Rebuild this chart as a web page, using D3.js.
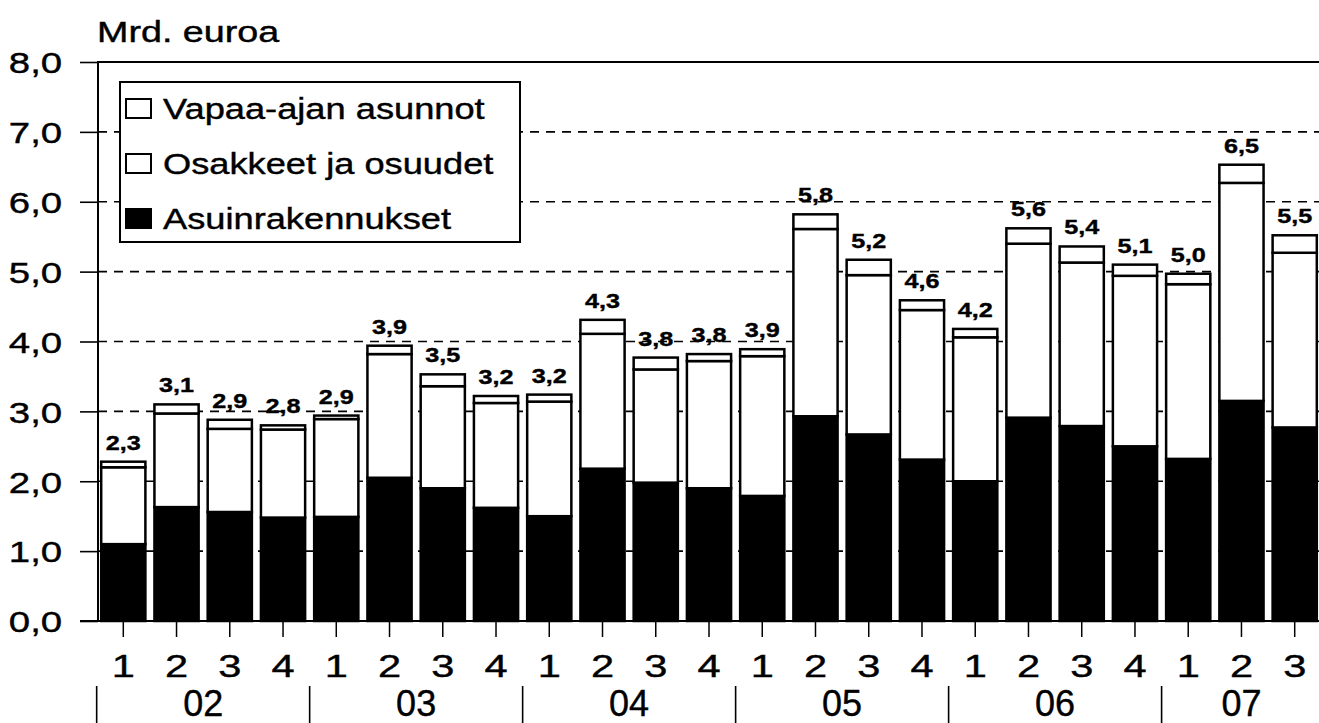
<!DOCTYPE html>
<html>
<head>
<meta charset="utf-8">
<script src="https://cdn.jsdelivr.net/npm/d3@7"></script>
<style>
  body { margin: 0; background: #fff; }
  svg { display: block; font-family: "Liberation Sans", Arial, Helvetica, sans-serif; }
  text { stroke: #000; stroke-width: 0.4; }
</style>
</head>
<body>
<svg id="chart" width="1319" height="723"></svg>
<script>
// quarters 2002 Q1 .. 2007 Q3
const quarters = ["1","2","3","4","1","2","3","4","1","2","3","4","1","2","3","4","1","2","3","4","1","2","3"];
const years = ["02","03","04","05","06","07"];

// Mrd. euroa
const asuinrakennukset = [1.10,1.63,1.56,1.48,1.49,2.05,1.90,1.62,1.50,2.18,1.98,1.90,1.79,2.93,2.67,2.31,2.00,2.91,2.79,2.50,2.32,3.15,2.77];
const osakkeet = [1.10,1.34,1.19,1.26,1.40,1.77,1.46,1.50,1.64,1.93,1.62,1.82,2.00,2.68,2.28,2.14,2.06,2.49,2.34,2.44,2.50,3.12,2.50];
const vapaaajan = [0.08,0.13,0.13,0.06,0.05,0.12,0.17,0.10,0.10,0.20,0.17,0.10,0.10,0.21,0.22,0.14,0.12,0.22,0.23,0.16,0.15,0.26,0.25];
const totalLabels = ["2,3","3,1","2,9","2,8","2,9","3,9","3,5","3,2","3,2","4,3","3,8","3,8","3,9","5,8","5,2","4,6","4,2","5,6","5,4","5,1","5,0","6,5","5,5"];

const yTicks = [0,1,2,3,4,5,6,7,8];
const legendLabels = ["Vapaa-ajan asunnot", "Osakkeet ja osuudet", "Asuinrakennukset"];

const svg = d3.select('#chart');
const m = { left: 98, top: 62, bottom: 621, right: 1320 };

const idx = d3.range(quarters.length);
const x = d3.scaleBand().domain(idx).range([m.left, m.right]).paddingInner(0.17).paddingOuter(0.06);
const y = d3.scaleLinear().domain([0, 8]).range([m.bottom, m.top]);

const comma = d => d3.format('.1f')(d).replace('.', ',');

// dashed grid lines
svg.append('g').selectAll('line')
  .data(yTicks.filter(d => d > 0 && d < 8))
  .join('line')
  .attr('x1', m.left).attr('x2', 1319)
  .attr('y1', d => y(d)).attr('y2', d => y(d))
  .attr('stroke', '#000').attr('stroke-width', 1.6)
  .attr('stroke-dasharray', '9,7');

// top frame line
svg.append('line').attr('x1', m.left).attr('x2', 1319).attr('y1', y(8)).attr('y2', y(8))
  .attr('stroke', '#000').attr('stroke-width', 2);

// stacked bars
const rows = idx.map(i => ({ i, a: asuinrakennukset[i], o: osakkeet[i], v: vapaaajan[i] }));
const stack = d3.stack().keys(['a', 'o', 'v'])(rows);
const fills = { a: '#000', o: '#fff', v: '#fff' };

stack.forEach(layer => {
  svg.append('g').selectAll('rect')
    .data(layer)
    .join('rect')
    .attr('x', d => x(d.data.i))
    .attr('width', x.bandwidth())
    .attr('y', d => y(d[1]))
    .attr('height', d => y(d[0]) - y(d[1]))
    .attr('fill', fills[layer.key])
    .attr('stroke', '#000')
    .attr('stroke-width', 2.5);
});

// total labels
svg.append('g').selectAll('text')
  .data(idx)
  .join('text')
  .attr('transform', i => `translate(${x(i) + x.bandwidth() / 2},${y(asuinrakennukset[i] + osakkeet[i] + vapaaajan[i]) - 12}) scale(1.2,1)`)
  .attr('text-anchor', 'middle')
  .attr('font-size', 21)
  .attr('font-weight', 'bold')
  .text(i => totalLabels[i]);

// y axis
const yAxis = svg.append('g')
  .attr('transform', `translate(${m.left},0)`)
  .call(d3.axisLeft(y).tickValues(yTicks).tickFormat(comma).tickSize(18));
yAxis.select('.domain').remove();
yAxis.selectAll('line').attr('stroke', '#000').attr('stroke-width', 1.6);
yAxis.selectAll('text')
  .attr('x', -28).attr('dy', '0.36em')
  .attr('transform', 'scale(1.28,1)')
  .attr('font-size', 30).attr('fill', '#000')
  .style('font-family', '"Liberation Sans", Arial, sans-serif');
svg.append('line').attr('x1', m.left).attr('x2', m.left).attr('y1', y(8) - 1).attr('y2', m.bottom)
  .attr('stroke', '#000').attr('stroke-width', 2);

// baseline
svg.append('line').attr('x1', m.left - 18).attr('x2', 1319).attr('y1', m.bottom).attr('y2', m.bottom)
  .attr('stroke', '#000').attr('stroke-width', 2);

// x axis with quarters
const xAxis = svg.append('g')
  .attr('transform', `translate(0,${m.bottom})`)
  .call(d3.axisBottom(x).tickFormat(i => quarters[i]).tickSize(16).tickSizeOuter(0));
xAxis.select('.domain').remove();
xAxis.selectAll('line').attr('stroke', '#000').attr('stroke-width', 1.5);
xAxis.selectAll('text')
  .attr('y', 56).attr('dy', 0)
  .attr('transform', 'scale(1.3,1)')
  .attr('font-size', 32).attr('fill', '#000')
  .style('font-family', '"Liberation Sans", Arial, sans-serif');

// year groups
const step = x.step();
const gap = step * x.paddingInner();
years.forEach((yr, k) => {
  const first = k * 4;
  const last = Math.min(first + 3, quarters.length - 1);
  const sx = x(first) - gap / 2;
  svg.append('line').attr('x1', sx).attr('x2', sx).attr('y1', 686).attr('y2', 723)
    .attr('stroke', '#000').attr('stroke-width', 1.6);
  const cx = (x(first) + x(last) + x.bandwidth()) / 2;
  svg.append('text').attr('x', cx).attr('y', 716)
    .attr('text-anchor', 'middle').attr('font-size', 36).text(yr);
});

// unit title
svg.append('text')
  .attr('transform', 'translate(97,42) scale(1.3,1)')
  .attr('font-size', 29).text('Mrd. euroa');

// legend
const lg = svg.append('g');
lg.append('rect').attr('x', 120).attr('y', 82).attr('width', 400).attr('height', 160)
  .attr('fill', '#fff').attr('stroke', '#000').attr('stroke-width', 2);
const legendFills = ['#fff', '#fff', '#000'];
legendLabels.forEach((t, k) => {
  const cy = 108 + k * 55;
  lg.append('rect').attr('x', 126).attr('y', cy - 9).attr('width', 25).attr('height', 19)
    .attr('fill', legendFills[k]).attr('stroke', '#000').attr('stroke-width', 2);
  lg.append('text').attr('transform', `translate(163,${cy + 11}) scale(1.25,1)`)
    .attr('font-size', 29).text(t);
});
</script>
</body>
</html>
